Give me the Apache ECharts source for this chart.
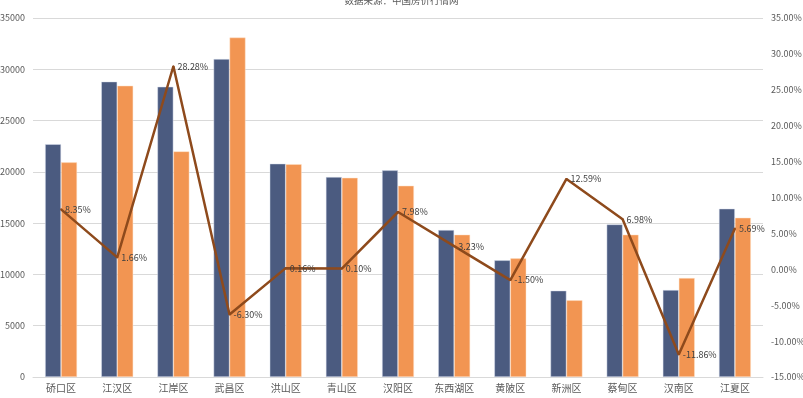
<!DOCTYPE html>
<html><head><meta charset="utf-8">
<script src="https://cdn.jsdelivr.net/npm/echarts@6/dist/echarts.min.js"></script>
<style>html,body{margin:0;padding:0;background:#fff}#c{width:803px;height:398px}</style>
</head><body><div id="c"></div>
<script>
const categories = ['硚口区','江汉区','江岸区','武昌区','洪山区','青山区','汉阳区','东西湖区','黄陂区','新洲区','蔡甸区','汉南区','江夏区'];
const priceA = [22700,28800,28300,31000,20800,19500,20150,14330,11380,8420,14880,8480,16410];
const priceB = [20930,28400,22000,33100,20750,19420,18650,13880,11570,7480,13880,9650,15530];
const change = [8.35,1.66,28.28,-6.30,0.16,0.10,7.98,3.23,-1.50,12.59,6.98,-11.86,5.69];
const titleText = '数据来源：中国房价行情网';

const chart = echarts.init(document.getElementById('c'));
const font = 'Noto Sans CJK SC, Noto Sans, sans-serif';
chart.setOption({
  animation:false,
  textStyle:{fontFamily:font},
  title:{text:titleText,left:'center',top:-9,textStyle:{fontSize:9.5,fontWeight:'normal',color:'#595959',fontFamily:font}},
  grid:{left:33,right:40,top:18,bottom:21,containLabel:false,outerBoundsMode:'none'},
  xAxis:{type:'category',data:categories,
    axisLine:{lineStyle:{color:'#d9d9d9'}},axisTick:{show:false},
    axisLabel:{color:'#595959',fontSize:10,margin:6,interval:0}},
  yAxis:[
    {type:'value',min:0,max:35000,interval:5000,
     axisLabel:{color:'#595959',fontSize:9,margin:8,formatter:v=>String(v)},
     splitLine:{lineStyle:{color:'#d9d9d9'}},axisLine:{show:false},axisTick:{show:false}},
    {type:'value',min:-15,max:35,interval:5,position:'right',
     axisLabel:{color:'#595959',fontSize:9,margin:8,formatter:v=>v.toFixed(2)+'%'},
     splitLine:{show:false},axisLine:{show:false},axisTick:{show:false}}
  ],
  series:[
    {type:'bar',data:priceA,barWidth:16,barGap:'0%',
     itemStyle:{color:'#4b5b80',borderColor:'rgba(220,225,240,0.8)',borderWidth:0.6}},
    {type:'bar',data:priceB,barWidth:16,barGap:'0%',
     itemStyle:{color:'#f29552',borderColor:'rgba(255,225,200,0.8)',borderWidth:0.6}},
    {type:'line',yAxisIndex:1,data:change,symbol:'circle',symbolSize:2,showSymbol:true,
     itemStyle:{color:'#8e4a1c'},
     lineStyle:{color:'#8e4a1c',width:2.5},
     labelLayout:{hideOverlap:false},
     label:{show:true,position:'right',distance:3,fontSize:9,color:'#404040',
       formatter:p=>p.value.toFixed(2)+'%'}}
  ]
});
</script></body></html>
